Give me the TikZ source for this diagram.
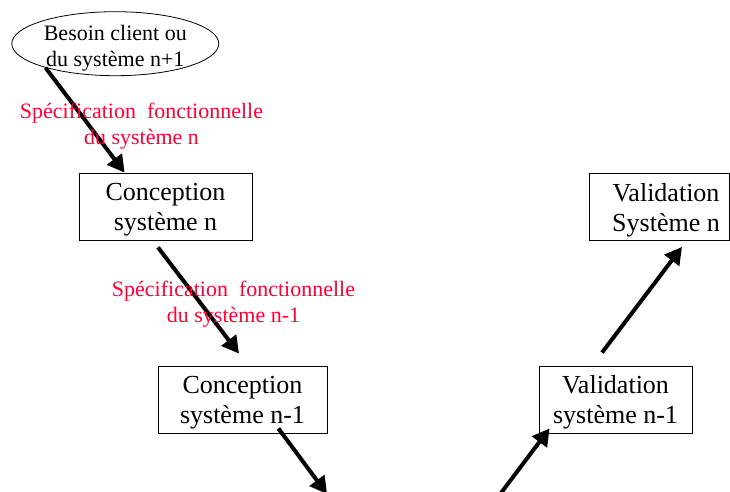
\documentclass[tikz,border=0pt]{standalone}
\usepackage{fontspec}
\setmainfont{Liberation Serif}
\usetikzlibrary{arrows.meta,shapes.geometric}
\definecolor{rougespec}{RGB}{255,0,51}
\begin{document}
\begin{tikzpicture}[x=1pt, y=-1pt,
	boite/.style={draw,line width=0.8pt,minimum height=67pt,inner sep=0pt,align=center,text depth=-3pt,font=\fontsize{26}{30}\selectfont},
	fleche/.style={-{Triangle[length=17pt,width=18pt]},line width=4pt},
	spec/.style={rougespec,align=center,font=\fontsize{22}{26.5}\selectfont}]

				%\draw[help lines] (0,0) grid (730,491);
				\useasboundingbox (0,0) rectangle (730,491);	% For alignment only

				\node[ellipse,draw,line width=0.8pt,minimum width=207pt,minimum height=64pt,inner sep=0pt,
					label={[align=center,font=\fontsize{22}{26}\selectfont,yshift=-4.8pt]center:Besoin client ou\\du système n+1}] (besoin) at (115.3,43.7) {};

				\node[boite,minimum width=173pt] (consN) at (165.5,206.5) {Conception\\système n};
				\node[boite,minimum width=169pt] (consN1) at (242.5,399.5) {Conception\\système n-1};
				\node[boite,minimum width=140pt] (valN) at (659,207) {\hspace*{14pt}Validation\\\hspace*{14pt}Système n};
				\node[boite,minimum width=153pt] (valN1) at (615.5,399.5) {Validation\\système n-1};

				\coordinate (fin1) at (327,494);
				\coordinate (debut2) at (501,493);

				\draw[fleche] (besoin.199) -- ([xshift=46pt]consN.north west);
				\draw[fleche] ([xshift=-7.5pt,yshift=-7pt]consN.south) -- ([xshift=-3.5pt,yshift=12pt]consN1.north);
				\draw[fleche] ([xshift=-49pt,yshift=5pt]consN1.south east) -- (fin1);
				\draw[fleche] (debut2) -- ([xshift=11pt,yshift=5pt]valN1.south west);
				\draw[fleche] ([xshift=-13.5pt,yshift=13pt]valN1.north) -- ([xshift=23pt,yshift=-6pt]valN.south);

				\node[spec] (spec1) at (141.5,126) {Spécification\ \ fonctionnelle\\du système n};
				\node[spec] (spec2) at (233.5,304) {Spécification\ \ fonctionnelle\\du système n-1};

			\end{tikzpicture}
\end{document}
